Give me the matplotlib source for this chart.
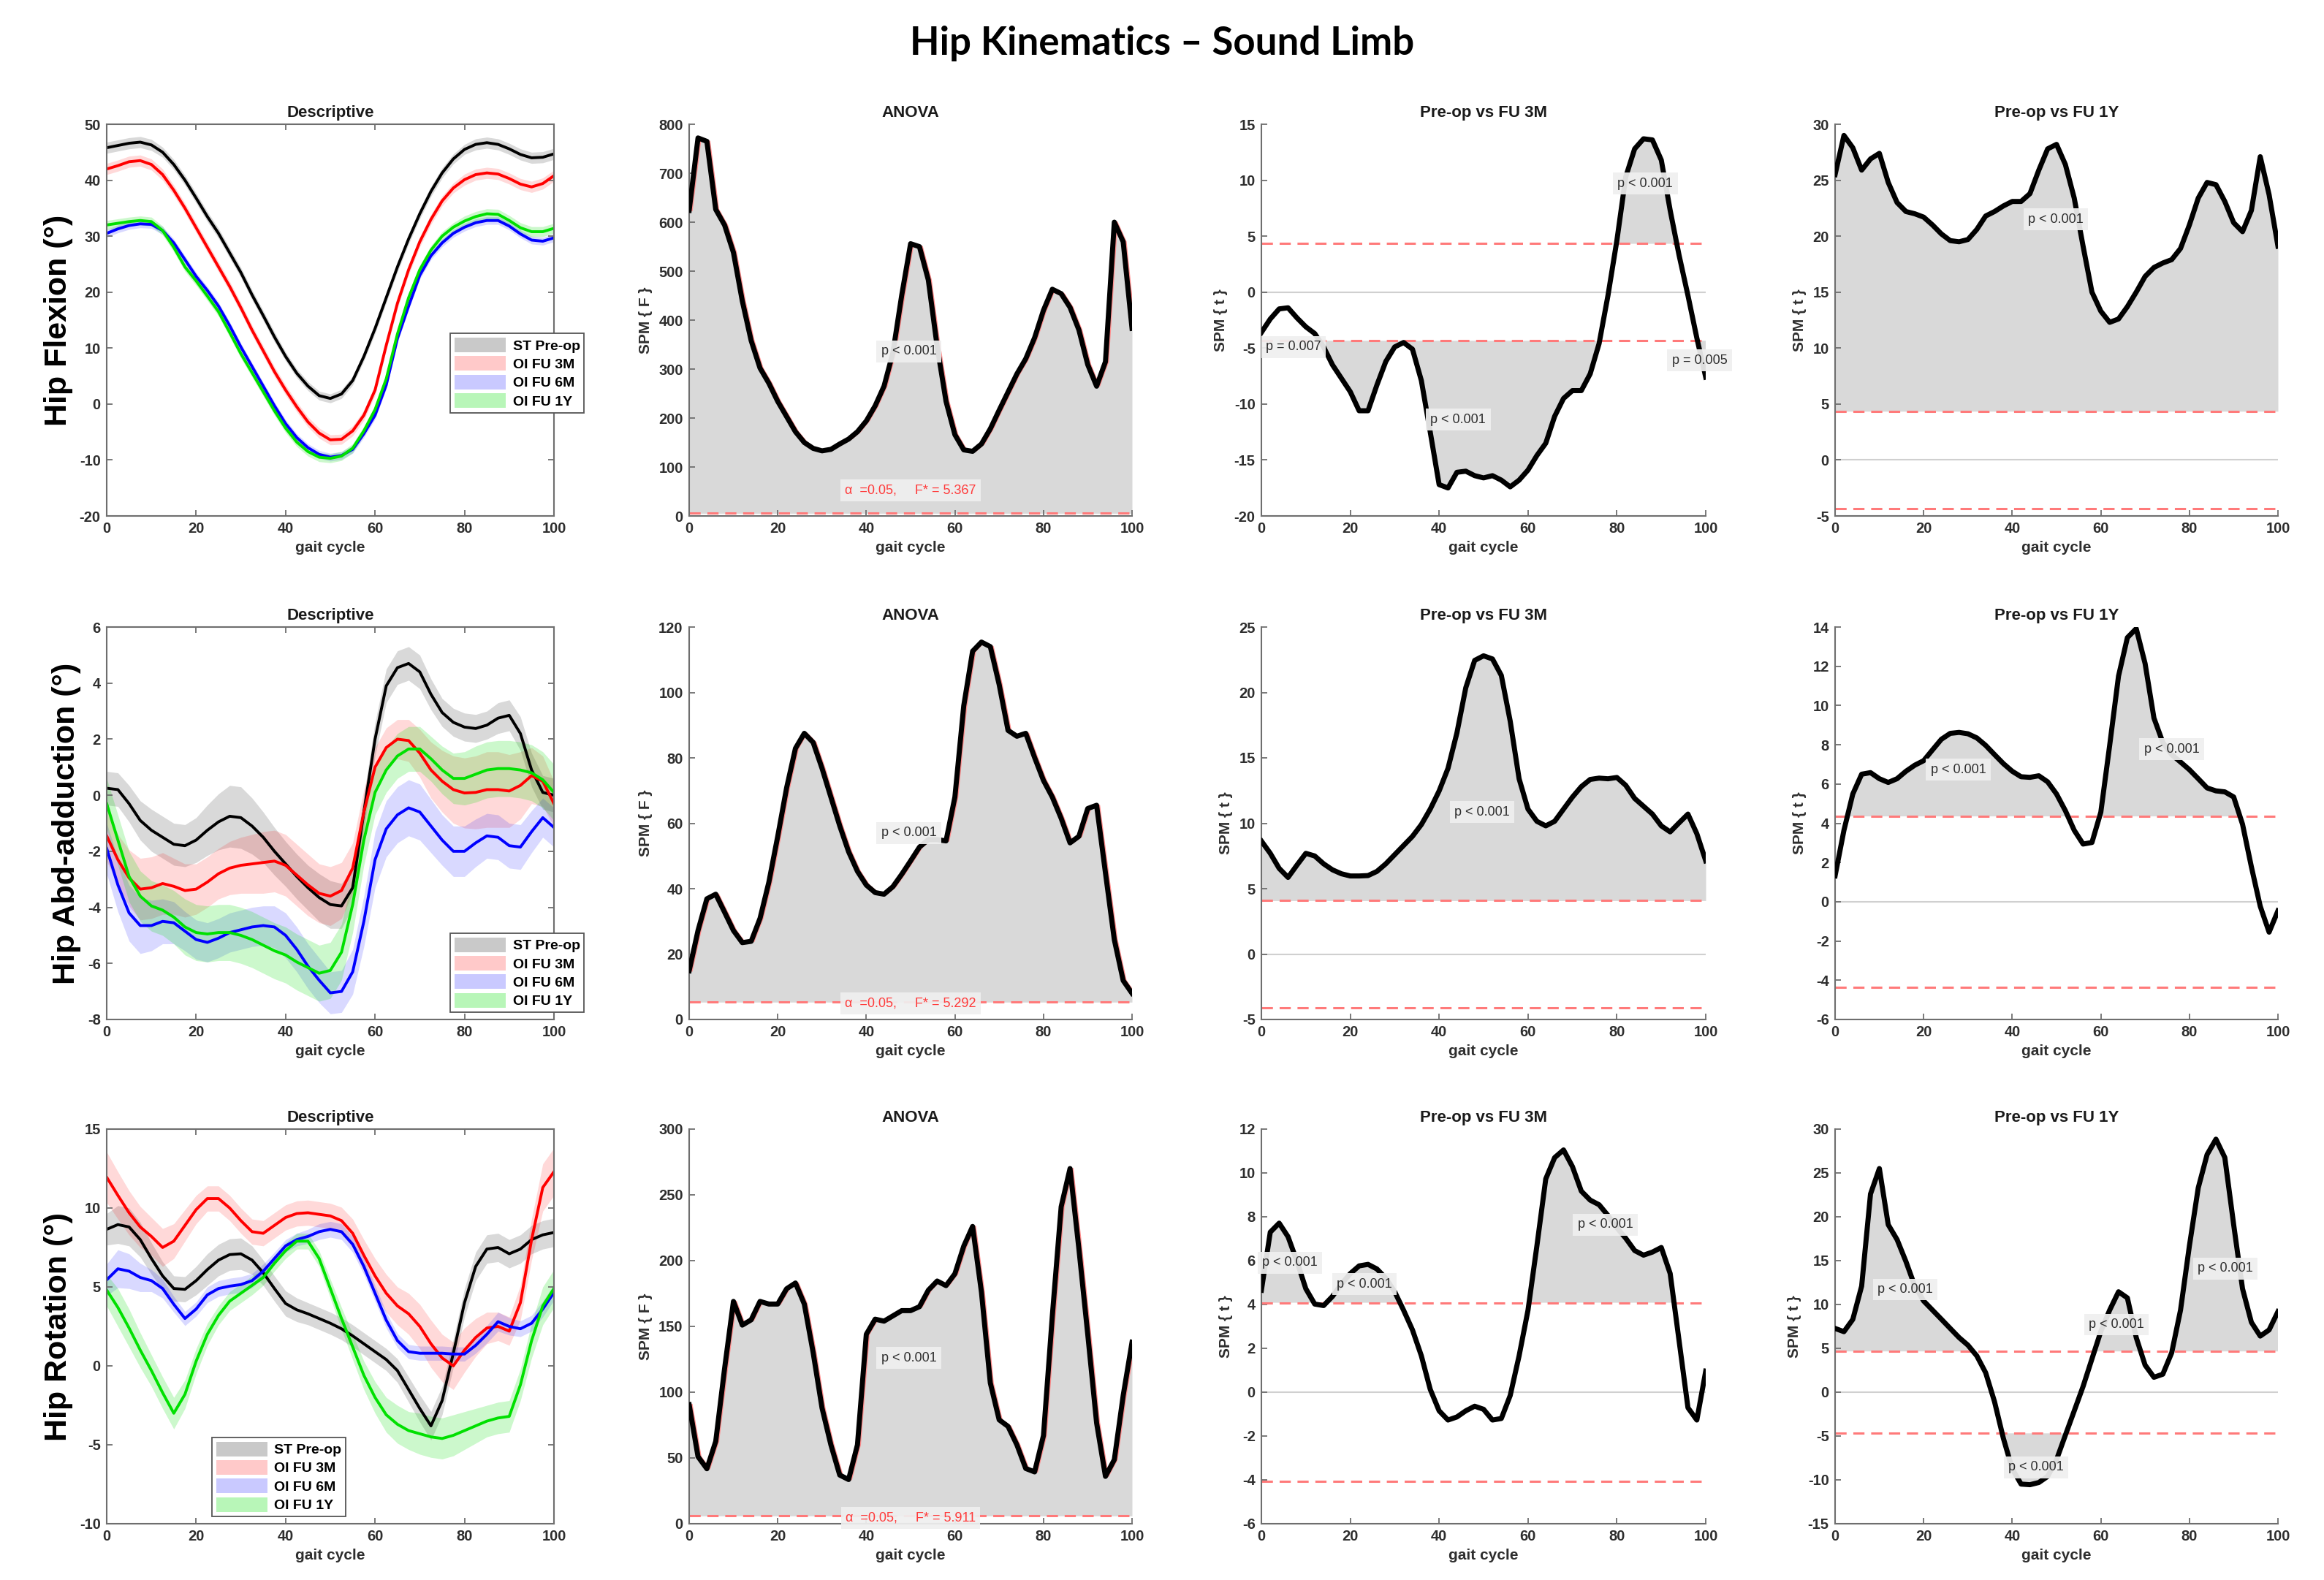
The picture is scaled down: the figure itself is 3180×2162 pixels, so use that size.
import numpy as np
import matplotlib
matplotlib.use('Agg')
import matplotlib.pyplot as plt
from matplotlib.patches import Patch

plt.rcParams['font.family'] = ['Liberation Sans', 'DejaVu Sans']
plt.rcParams['axes.unicode_minus'] = False

W, H = 3180, 2162

# gait cycle grids
x_desc = np.arange(0, 100.1, 2.5)
x_spm = np.arange(0, 101, 2)

groups = ['ST Pre-op', 'OI FU 3M', 'OI FU 6M', 'OI FU 1Y']
group_colors = ['#000000', '#ff0000', '#0000ff', '#00e000']
group_alpha = [0.15, 0.15, 0.15, 0.2]
row_labels = ['Hip Flexion (\u00b0)', 'Hip Abd-adduction (\u00b0)', 'Hip Rotation (\u00b0)']

# ---- descriptive means / SDs (hip flexion) ----
flex_pre = [45.8, 46.2, 46.6, 46.8, 46.3, 45.0, 42.8, 40.0, 36.8, 33.5, 30.5, 27.0, 23.5, 19.5, 15.8, 12.0, 8.5, 5.5, 3.2, 1.5,
            1.0, 1.8, 4.2, 8.5, 13.5, 19.0, 24.5, 29.5, 34.0, 38.0, 41.3, 43.8, 45.5, 46.4, 46.7, 46.4, 45.6, 44.6, 44.0, 44.1, 44.7]
flex_3m = [42.0, 42.6, 43.3, 43.5, 42.8, 41.0, 38.2, 35.0, 31.5, 28.0, 24.5, 21.0, 17.2, 13.2, 9.5, 5.8, 2.5, -0.5, -3.2, -5.2,
           -6.4, -6.3, -4.8, -2.0, 2.5, 10.5, 18.0, 24.0, 29.0, 33.0, 36.3, 38.6, 40.1, 41.0, 41.3, 41.1, 40.3, 39.3, 38.8, 39.4, 40.8]
flex_6m = [30.5, 31.3, 31.9, 32.2, 32.1, 31.0, 28.8, 25.8, 22.8, 20.3, 17.5, 14.0, 10.2, 6.7, 3.2, -0.3, -3.5, -6.0, -7.8, -9.0,
           -9.5, -9.2, -8.1, -5.3, -2.0, 3.4, 11.7, 17.5, 23.0, 26.5, 28.8, 30.5, 31.6, 32.4, 32.8, 32.8, 31.8, 30.4, 29.3, 29.1, 29.7]
flex_1y = [32.0, 32.3, 32.6, 32.8, 32.6, 31.0, 28.0, 24.5, 22.0, 19.3, 16.5, 12.8, 9.0, 5.6, 2.2, -1.2, -4.3, -6.8, -8.5, -9.5,
           -9.7, -9.3, -7.9, -4.8, -1.0, 4.5, 12.5, 19.0, 24.0, 27.5, 30.0, 31.6, 32.7, 33.5, 34.0, 33.9, 32.8, 31.5, 30.8, 30.8, 31.4]
flex_pre_sd = [1.0, 1.0, 1.0, 1.0, 1.0, 0.9, 0.9, 0.9, 0.9, 0.9, 0.9, 0.9, 0.9, 0.9, 0.9, 0.9, 0.8, 0.8, 0.8, 0.8,
               0.8, 0.8, 0.8, 0.8, 0.9, 0.9, 0.9, 0.9, 0.9, 0.9, 0.9, 0.9, 0.9, 1.0, 1.0, 1.0, 1.0, 1.0, 1.0, 1.0, 1.0]
flex_3m_sd = [1.0, 1.0, 1.0, 1.0, 1.0, 1.0, 0.9, 0.9, 0.9, 0.9, 0.9, 0.9, 0.9, 0.9, 0.9, 0.9, 0.9, 0.9, 0.9, 0.9,
              0.9, 0.9, 0.9, 0.9, 0.9, 0.9, 0.9, 0.9, 0.9, 0.9, 0.9, 0.9, 1.0, 1.0, 1.0, 1.0, 1.0, 1.0, 1.0, 1.0, 1.0]
flex_6m_sd = [0.7, 0.7, 0.7, 0.7, 0.7, 0.7, 0.7, 0.7, 0.7, 0.7, 0.7, 0.7, 0.7, 0.7, 0.7, 0.7, 0.7, 0.7, 0.7, 0.7,
              0.7, 0.7, 0.7, 0.7, 0.7, 0.7, 0.7, 0.7, 0.7, 0.7, 0.7, 0.7, 0.7, 0.7, 0.7, 0.7, 0.7, 0.7, 0.7, 0.7, 0.7]
flex_1y_sd = [0.8, 0.8, 0.8, 0.8, 0.8, 0.8, 0.8, 0.8, 0.8, 0.8, 0.8, 0.8, 0.8, 0.8, 0.8, 0.8, 0.8, 0.8, 0.8, 0.8,
              0.8, 0.8, 0.8, 0.8, 0.8, 0.8, 0.8, 0.8, 0.8, 0.8, 0.8, 0.8, 0.9, 0.9, 0.9, 0.9, 0.9, 0.9, 0.9, 0.9, 0.9]

# ---- hip abd-adduction ----
abd_pre = [0.25, 0.2, -0.3, -0.9, -1.25, -1.5, -1.75, -1.8, -1.6, -1.25, -0.95, -0.75, -0.8, -1.1, -1.5, -2.0, -2.45, -2.9, -3.3, -3.65,
           -3.9, -3.95, -3.3, -0.6, 2.0, 3.9, 4.55, 4.7, 4.4, 3.6, 2.95, 2.6, 2.43, 2.38, 2.5, 2.75, 2.85, 2.2, 0.9, 0.1, 0.0]
abd_3m = [-1.45, -2.3, -2.95, -3.35, -3.3, -3.15, -3.25, -3.4, -3.35, -3.1, -2.8, -2.6, -2.5, -2.45, -2.4, -2.35, -2.5, -2.85, -3.2, -3.5,
          -3.6, -3.4, -2.6, -0.6, 1.0, 1.7, 2.0, 1.95, 1.5, 0.9, 0.5, 0.2, 0.08, 0.1, 0.2, 0.2, 0.15, 0.35, 0.7, 0.5, -0.3]
abd_6m = [-1.9, -3.2, -4.2, -4.65, -4.65, -4.5, -4.55, -4.85, -5.15, -5.25, -5.1, -4.9, -4.8, -4.7, -4.65, -4.7, -5.0, -5.5, -6.1, -6.6,
          -7.05, -7.0, -6.3, -4.5, -2.3, -1.2, -0.7, -0.45, -0.6, -1.1, -1.6, -2.0, -2.0, -1.7, -1.45, -1.5, -1.8, -1.85, -1.3, -0.8, -1.15]
abd_1y = [-0.3, -1.6, -2.9, -3.6, -3.95, -4.1, -4.35, -4.7, -4.9, -4.95, -4.9, -4.9, -5.0, -5.15, -5.35, -5.55, -5.7, -5.95, -6.15, -6.35,
          -6.25, -5.6, -3.9, -1.6, 0.1, 0.9, 1.4, 1.65, 1.65, 1.3, 0.9, 0.6, 0.6, 0.75, 0.9, 0.95, 0.95, 0.9, 0.8, 0.55, 0.1]
abd_pre_sd = [0.6, 0.6, 0.65, 0.7, 0.75, 0.75, 0.75, 0.75, 0.8, 0.9, 1.0, 1.1, 1.1, 1.0, 0.9, 0.85, 0.8, 0.8, 0.8, 0.85,
              0.85, 0.8, 0.7, 0.6, 0.6, 0.6, 0.6, 0.6, 0.6, 0.55, 0.5, 0.5, 0.5, 0.5, 0.5, 0.55, 0.55, 0.6, 0.6, 0.6, 0.6]
abd_3m_sd = [0.9, 0.9, 1.0, 1.1, 1.1, 1.1, 1.0, 0.95, 0.9, 0.9, 0.9, 0.95, 1.0, 1.05, 1.1, 1.1, 1.1, 1.1, 1.1, 1.05,
             1.05, 1.0, 0.9, 0.8, 0.7, 0.7, 0.7, 0.75, 0.85, 1.0, 1.1, 1.2, 1.25, 1.3, 1.35, 1.35, 1.3, 1.2, 1.0, 0.9, 0.8]
abd_6m_sd = [0.9, 0.95, 1.0, 1.0, 0.9, 0.8, 0.75, 0.7, 0.7, 0.7, 0.7, 0.7, 0.7, 0.7, 0.7, 0.75, 0.8, 0.8, 0.8, 0.8,
             0.75, 0.75, 0.8, 0.9, 1.0, 1.0, 1.0, 1.0, 1.0, 0.95, 0.9, 0.9, 0.9, 0.85, 0.8, 0.8, 0.8, 0.8, 0.75, 0.7, 0.7]
abd_1y_sd = [0.9, 0.9, 0.9, 0.9, 0.9, 0.9, 0.95, 1.0, 1.0, 1.0, 1.0, 1.0, 1.0, 1.0, 1.0, 1.0, 1.0, 1.0, 1.0, 1.0,
             1.0, 1.0, 1.0, 0.9, 0.8, 0.8, 0.8, 0.8, 0.8, 0.8, 0.85, 0.9, 0.95, 1.0, 1.0, 1.0, 1.0, 1.0, 1.0, 1.0, 1.0]

# ---- hip rotation ----
rot_pre = [8.65, 8.95, 8.8, 8.0, 6.8, 5.7, 4.9, 4.85, 5.4, 6.1, 6.7, 7.05, 7.1, 6.7, 5.9, 4.9, 3.95, 3.55, 3.3, 3.0,
           2.7, 2.35, 1.9, 1.4, 0.9, 0.4, -0.3, -1.5, -2.7, -3.8, -2.2, 0.8, 4.0, 6.3, 7.4, 7.5, 7.1, 7.4, 8.0, 8.3, 8.45]
rot_3m = [11.95, 10.8, 9.7, 8.8, 8.2, 7.5, 7.9, 8.9, 9.9, 10.6, 10.6, 10.0, 9.2, 8.5, 8.4, 8.9, 9.4, 9.65, 9.7, 9.6,
          9.5, 9.2, 8.4, 7.0, 5.7, 4.6, 3.8, 3.3, 2.5, 1.4, 0.5, 0.0, 1.0, 1.8, 2.4, 2.5, 2.2, 4.0, 8.0, 11.3, 12.3]
rot_6m = [5.45, 6.15, 6.0, 5.6, 5.4, 4.9, 3.9, 3.0, 3.6, 4.5, 4.9, 5.05, 5.15, 5.4, 6.0, 6.8, 7.6, 8.0, 8.2, 8.5,
          8.65, 8.5, 7.7, 6.3, 4.6, 2.9, 1.6, 0.9, 0.8, 0.8, 0.8, 0.75, 0.75, 1.3, 2.0, 2.8, 2.5, 2.35, 2.7, 3.6, 4.65]
rot_1y = [4.8, 3.7, 2.4, 1.0, -0.3, -1.7, -3.0, -1.8, 0.3, 2.0, 3.2, 4.1, 4.6, 5.1, 5.6, 6.5, 7.3, 7.9, 7.9, 6.8,
          4.9, 3.0, 1.2, -0.6, -2.0, -3.1, -3.7, -4.1, -4.3, -4.5, -4.6, -4.4, -4.1, -3.8, -3.5, -3.3, -3.2, -1.2, 1.6, 3.8, 4.9]
rot_pre_sd = [1.0, 1.2, 1.2, 1.1, 1.0, 0.9, 0.8, 0.8, 0.9, 1.0, 1.0, 1.0, 1.0, 0.9, 0.8, 0.8, 0.8, 0.75, 0.7, 0.7,
              0.7, 0.7, 0.7, 0.7, 0.7, 0.7, 0.75, 0.8, 0.85, 0.9, 0.9, 0.9, 0.9, 0.9, 0.9, 0.9, 0.9, 0.9, 0.9, 0.9, 0.9]
rot_3m_sd = [1.6, 1.5, 1.4, 1.3, 1.2, 1.2, 1.1, 1.0, 0.9, 0.8, 0.8, 0.8, 0.8, 0.8, 0.8, 0.8, 0.8, 0.8, 0.8, 0.8,
             0.8, 0.85, 0.9, 1.0, 1.1, 1.2, 1.2, 1.3, 1.4, 1.5, 1.5, 1.5, 1.4, 1.2, 1.0, 0.9, 0.9, 1.1, 1.3, 1.5, 1.5]
rot_6m_sd = [1.0, 1.2, 1.1, 0.9, 0.7, 0.6, 0.5, 0.45, 0.45, 0.5, 0.5, 0.5, 0.5, 0.45, 0.45, 0.4, 0.4, 0.4, 0.45, 0.5,
             0.5, 0.5, 0.5, 0.5, 0.5, 0.5, 0.45, 0.45, 0.45, 0.45, 0.45, 0.45, 0.45, 0.5, 0.55, 0.6, 0.55, 0.5, 0.5, 0.5, 0.5]
rot_1y_sd = [1.0, 1.2, 1.2, 1.1, 1.0, 1.0, 1.0, 0.9, 0.8, 0.7, 0.6, 0.6, 0.6, 0.6, 0.5, 0.5, 0.5, 0.5, 0.5, 0.5,
             0.6, 0.7, 0.8, 0.9, 1.0, 1.1, 1.2, 1.2, 1.3, 1.3, 1.3, 1.3, 1.2, 1.1, 1.0, 1.0, 1.0, 1.0, 1.1, 1.2, 1.2]

# ---- SPM{F} ANOVA curves ----
anova_flex = [624, 772, 765, 626, 594, 538, 439, 358, 302, 271, 234, 203, 172, 150, 138, 133, 136, 147, 157, 172,
              194, 225, 265, 333, 451, 556, 550, 482, 346, 234, 166, 135, 132, 147, 178, 216, 253, 290, 321, 364,
              420, 463, 454, 426, 380, 309, 265, 315, 600, 560, 383]
anova_abd = [14.9, 27.2, 36.9, 38.3, 32.8, 27.2, 23.5, 23.9, 30.9, 42.0, 56.0, 70.8, 82.9, 87.5, 84.7, 76.8, 68.0, 59.2, 51.3, 45.3,
             41.1, 38.8, 38.3, 40.6, 44.4, 48.5, 52.7, 55.0, 55.0, 54.6, 68.0, 95.9, 112.6, 115.4, 114.0, 102.4, 88.4, 86.6, 87.5, 80.1,
             73.1, 68.0, 61.5, 54.0, 56.0, 64.5, 65.5, 44.8, 24.4, 11.9, 8.0]
anova_rot = [90.5, 51.0, 41.8, 62.6, 118.0, 169.0, 151.0, 155.0, 169.0, 167.0, 167.0, 178.6, 183.0, 167.0, 130.0, 88.0, 60.0, 37.0, 33.6, 60.0,
             144.0, 155.5, 154.0, 158.0, 162.0, 162.0, 165.0, 177.5, 184.5, 181.0, 190.0, 211.0, 226.0, 176.0, 107.0, 79.0, 74.0, 60.0, 42.0, 39.4,
             67.0, 158.0, 241.0, 270.0, 209.0, 144.0, 76.6, 36.0, 48.7, 97.4, 138.0]
f_star = [5.367, 5.292, 5.911]

# ---- SPM{t} Pre-op vs FU 3M ----
t3m_flex = [-3.6, -2.4, -1.5, -1.4, -2.3, -3.1, -3.7, -4.9, -6.5, -7.7, -8.9, -10.6, -10.6, -8.3, -6.2, -4.9, -4.5, -5.1, -7.9, -12.5,
            -17.2, -17.5, -16.1, -16.0, -16.4, -16.6, -16.4, -16.8, -17.4, -16.8, -15.9, -14.6, -13.5, -11.1, -9.5, -8.8, -8.8, -7.3, -4.6, -0.3,
            4.6, 10.3, 12.8, 13.7, 13.6, 11.8, 7.3, 3.3, -0.3, -4.1, -7.6]
t3m_abd = [8.64, 7.7, 6.55, 5.86, 6.8, 7.7, 7.5, 6.9, 6.44, 6.14, 5.97, 5.97, 6.0, 6.32, 6.9, 7.6, 8.3, 9.0, 9.9, 11.08,
           12.47, 14.2, 16.9, 20.36, 22.45, 22.8, 22.56, 21.3, 17.8, 13.4, 11.08, 10.15, 9.8, 10.15, 11.08, 12.0, 12.8, 13.35, 13.45, 13.4,
           13.5, 12.9, 11.9, 11.3, 10.7, 9.8, 9.34, 10.03, 10.7, 9.2, 7.13]
t3m_rot = [4.65, 7.3, 7.71, 7.09, 5.97, 4.72, 4.02, 3.95, 4.37, 4.93, 5.41, 5.76, 5.83, 5.62, 5.2, 4.58, 3.74, 2.84, 1.66, 0.13,
           -0.85, -1.27, -1.13, -0.85, -0.64, -0.78, -1.27, -1.2, -0.15, 1.66, 3.74, 6.67, 9.73, 10.7, 11.05, 10.29, 9.17, 8.76, 8.55, 8.06,
           7.5, 7.02, 6.46, 6.25, 6.39, 6.6, 5.41, 2.35, -0.71, -1.27, 0.96]
t3m_star = [4.35, 4.08, 4.08]

# ---- SPM{t} Pre-op vs FU 1Y ----
t1y_flex = [25.5, 29.0, 27.9, 25.9, 26.9, 27.4, 24.8, 23.0, 22.2, 22.0, 21.7, 21.0, 20.2, 19.6, 19.5, 19.7, 20.6, 21.8, 22.2, 22.7,
            23.1, 23.1, 23.8, 25.9, 27.8, 28.2, 26.4, 23.4, 19.1, 15.0, 13.3, 12.3, 12.6, 13.7, 15.0, 16.4, 17.2, 17.6, 17.9, 18.9,
            21.0, 23.4, 24.8, 24.6, 23.1, 21.2, 20.4, 22.3, 27.1, 23.7, 19.1]
t1y_abd = [1.32, 3.64, 5.49, 6.5, 6.58, 6.27, 6.08, 6.27, 6.65, 6.96, 7.19, 7.74, 8.28, 8.58, 8.63, 8.56, 8.35, 7.97, 7.5, 7.04,
           6.65, 6.37, 6.34, 6.42, 6.11, 5.49, 4.64, 3.64, 2.94, 3.02, 4.56, 7.97, 11.5, 13.46, 13.92, 12.14, 9.36, 8.12, 7.5, 7.12,
           6.73, 6.27, 5.8, 5.65, 5.6, 5.34, 3.95, 1.78, -0.23, -1.55, -0.46]
t1y_rot = [7.27, 6.9, 8.3, 12.1, 22.6, 25.5, 19.1, 17.4, 14.9, 12.1, 10.4, 9.36, 8.32, 7.27, 6.23, 5.36, 4.14, 2.22, -1.08, -5.26,
           -8.74, -10.48, -10.55, -10.3, -9.6, -7.7, -4.9, -2.13, 0.66, 3.8, 6.92, 9.36, 11.45, 10.75, 6.23, 3.09, 1.7, 2.05, 4.49, 9.36,
           16.67, 23.3, 27.1, 28.85, 26.76, 19.1, 11.8, 7.97, 6.4, 7.1, 9.19]
t1y_star = [4.35, 4.35, 4.65]

desc_means = [[flex_pre, flex_3m, flex_6m, flex_1y],
              [abd_pre, abd_3m, abd_6m, abd_1y],
              [rot_pre, rot_3m, rot_6m, rot_1y]]
desc_sds = [[flex_pre_sd, flex_3m_sd, flex_6m_sd, flex_1y_sd],
            [abd_pre_sd, abd_3m_sd, abd_6m_sd, abd_1y_sd],
            [rot_pre_sd, rot_3m_sd, rot_6m_sd, rot_1y_sd]]
anova_curves = [anova_flex, anova_abd, anova_rot]
t3m_curves = [t3m_flex, t3m_abd, t3m_rot]
t1y_curves = [t1y_flex, t1y_abd, t1y_rot]

# axis limits / ticks per panel
desc_ylim = [(-20, 50, 10), (-8, 6, 2), (-10, 15, 5)]
anova_ylim = [(0, 800, 100), (0, 120, 20), (0, 300, 50)]
t3m_ylim = [(-20, 15, 5), (-5, 25, 5), (-6, 12, 2)]
t1y_ylim = [(-5, 30, 5), (-6, 14, 2), (-15, 30, 5)]

# annotation placements (x, y, text)
anova_notes = [[(49.6, 336)], [(49.6, 57)], [(49.6, 126)]]
alpha_pos = [(50, 52), (50, 4.9), (50, 4.6)]
t3m_notes = [[(7.2, -4.9, 'p = 0.007'), (44.3, -11.4, 'p < 0.001'), (86.4, 9.7, 'p < 0.001'), (98.6, -6.1, 'p = 0.005')],
             [(49.7, 10.85, 'p < 0.001')],
             [(6.4, 5.9, 'p < 0.001'), (23.2, 4.93, 'p < 0.001'), (77.4, 7.64, 'p < 0.001')]]
t1y_notes = [[(49.8, 21.5, 'p < 0.001')],
             [(27.8, 6.73, 'p < 0.001'), (76.0, 7.78, 'p < 0.001')],
             [(15.8, 11.7, 'p < 0.001'), (63.5, 7.7, 'p < 0.001'), (88.1, 14.1, 'p < 0.001'), (45.4, -8.57, 'p < 0.001')]]
legend_anchor = [(0.768, 0.466), (0.768, 0.22), (0.235, 0.219)]

col_left = [146, 943, 1726, 2511]
col_width = [612, 606, 608, 606]
row_top = [170, 858, 1545]
row_height = [536, 537, 540]

SPINE = '#6e6e6e'
TXT = '#2e2e2e'
FILL = '#d9d9d9'
THR = '#ff7a7a'

fig = plt.figure(figsize=(W / 100, H / 100), dpi=100)


def make_ax(r, c):
    return fig.add_axes([col_left[c] / W, 1 - (row_top[r] + row_height[r]) / H,
                         col_width[c] / W, row_height[r] / H])


def style(ax, lims, box):
    lo, hi, step = lims
    ax.set_xlim(0, 100)
    ax.set_ylim(lo, hi)
    ax.set_xticks(np.arange(0, 101, 20))
    ax.set_yticks(np.arange(lo, hi + step / 2, step))
    for s in ax.spines.values():
        s.set_color(SPINE)
        s.set_linewidth(1.5)
    if not box:
        ax.spines['top'].set_visible(False)
        ax.spines['right'].set_visible(False)
    ax.tick_params(direction='in', length=6, width=1.3, color=SPINE, labelsize=14.5,
                   labelcolor=TXT, top=box, right=box, pad=6)
    for lab in ax.get_xticklabels() + ax.get_yticklabels():
        lab.set_fontweight('bold')
    ax.set_xlabel('gait cycle', fontsize=15, fontweight='bold', color=TXT, labelpad=5)


def note(ax, x, y, s, color=TXT):
    ax.text(x, y, s, ha='center', va='center', fontsize=13, color=color, zorder=6,
            bbox=dict(boxstyle='square,pad=0.35', facecolor='#efefef', edgecolor='none', alpha=0.93))


def t_panel(ax, t, thr):
    t = np.array(t)
    ax.axhline(0, color='#d0d0d0', lw=1.5, zorder=1)
    ax.fill_between(x_spm, t, thr, where=t > thr, interpolate=True, color=FILL, lw=0, zorder=1)
    ax.fill_between(x_spm, t, -thr, where=t < -thr, interpolate=True, color=FILL, lw=0, zorder=1)
    for h in (thr, -thr):
        ax.axhline(h, color=THR, lw=2.2, ls=(0, (5, 3)), zorder=2)
    ax.plot(x_spm, t, color='black', lw=5, solid_joinstyle='round', zorder=3)
    ax.set_ylabel('SPM { t }', fontsize=15, fontweight='bold', color=TXT, labelpad=6)


for r in range(3):
    # descriptive
    ax = make_ax(r, 0)
    for m, sd, col, a in zip(desc_means[r], desc_sds[r], group_colors, group_alpha):
        m = np.array(m)
        sd = np.array(sd)
        ax.fill_between(x_desc, m - sd, m + sd, color=col, alpha=a, lw=0)
    for m, col in zip(desc_means[r], group_colors):
        ax.plot(x_desc, m, color=col, lw=2.8)
    style(ax, desc_ylim[r], True)
    ax.set_title('Descriptive', fontsize=16, fontweight='bold', color='#1a1a1a', pad=7)
    ax.set_ylabel(row_labels[r], fontsize=31, fontweight='bold', color='black', labelpad=6)
    handles = [Patch(facecolor=c, alpha=a * 1.4, edgecolor='none') for c, a in zip(group_colors, group_alpha)]
    leg = ax.legend(handles, groups, loc='upper left', bbox_to_anchor=legend_anchor[r], borderaxespad=0,
                    fancybox=False, framealpha=1, edgecolor='#555555', handlelength=3.6, handleheight=1.2,
                    labelspacing=0.25, borderpad=0.3, handletextpad=0.5,
                    prop={'size': 14, 'weight': 'bold'})
    leg.get_frame().set_linewidth(1.3)

    # ANOVA
    ax = make_ax(r, 1)
    F = np.array(anova_curves[r])
    fs = f_star[r]
    ax.fill_between(x_spm, F, fs, where=F > fs, interpolate=True, color=FILL, lw=0, zorder=1)
    ax.axhline(fs, color=THR, lw=2.2, ls=(0, (5, 3)), zorder=2)
    ax.plot(x_spm + 0.6, F, color='#ff8c8c', lw=1.6, zorder=2)
    ax.plot(x_spm, F, color='black', lw=5, solid_joinstyle='round', zorder=3)
    style(ax, anova_ylim[r], False)
    ax.set_title('ANOVA', fontsize=16, fontweight='bold', color='#1a1a1a', pad=7)
    ax.set_ylabel('SPM { F }', fontsize=15, fontweight='bold', color=TXT, labelpad=6)
    for (px, py) in anova_notes[r]:
        note(ax, px, py, 'p < 0.001')
    note(ax, alpha_pos[r][0], alpha_pos[r][1],
         '\u03b1  =0.05,     F* = %.3f' % fs, color='#ff3a3a')

    # Pre-op vs FU 3M
    ax = make_ax(r, 2)
    t_panel(ax, t3m_curves[r], t3m_star[r])
    style(ax, t3m_ylim[r], False)
    ax.set_title('Pre-op vs FU 3M', fontsize=16, fontweight='bold', color='#1a1a1a', pad=7)
    for (px, py, s) in t3m_notes[r]:
        note(ax, px, py, s)

    # Pre-op vs FU 1Y
    ax = make_ax(r, 3)
    t_panel(ax, t1y_curves[r], t1y_star[r])
    style(ax, t1y_ylim[r], False)
    ax.set_title('Pre-op vs FU 1Y', fontsize=16, fontweight='bold', color='#1a1a1a', pad=7)
    for (px, py, s) in t1y_notes[r]:
        note(ax, px, py, s)

fig.text(0.5, 1 - 60 / H, 'Hip Kinematics \u2013 Sound Limb', ha='center', va='center',
         fontsize=38, fontweight='bold', family=['Lato', 'DejaVu Sans'])

fig.savefig('out.png', dpi=100)
